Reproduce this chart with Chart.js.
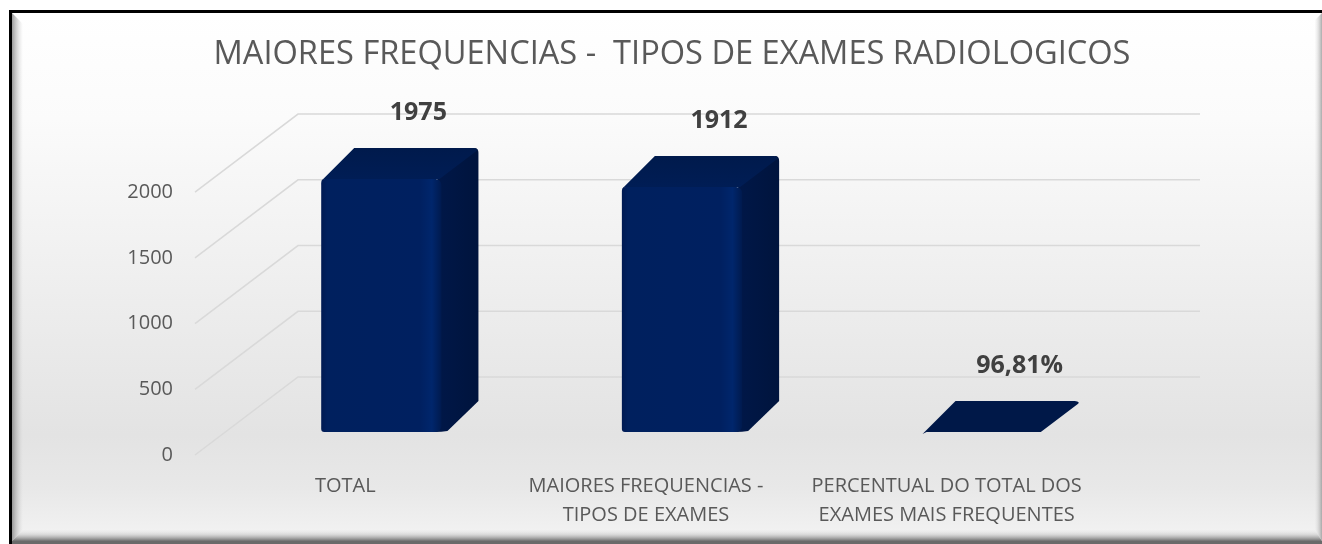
<!DOCTYPE html>
<html>
<head>
<meta charset="utf-8">
<script src="https://cdn.jsdelivr.net/npm/chart.js@4.4.0/dist/chart.umd.min.js"></script>
<style>
  html, body { margin: 0; padding: 0; background: #fff; }
  #wrap { width: 1322px; height: 544px; }
</style>
</head>
<body>
<div id="wrap"><canvas id="chart" width="1322" height="544"></canvas></div>
<script>
// data
const categories = [
  ['TOTAL'],
  ['MAIORES FREQUENCIAS -', 'TIPOS DE EXAMES'],
  ['PERCENTUAL DO TOTAL DOS', 'EXAMES MAIS FREQUENTES']
];
const values = [1975, 1912, 0.9681];
const valueLabels = ['1975', '1912', '96,81%'];
const yTicks = [0, 500, 1000, 1500, 2000];
const chartTitle = 'MAIORES FREQUENCIAS -  TIPOS DE EXAMES RADIOLOGICOS';

// fake 3d look (excel style)
const WALL = { x: 103, y: -78 };   // front edge of floor -> back wall
const PLANE = { x: 36, y: -23 };   // front edge -> front face of the bars
const DEPTH = { x: 37, y: -31 };   // bar depth
const H_SCALE = 0.975;

const TEXT = '#595959';

const framePlugin = {
  id: 'frame',
  beforeDraw(chart) {
    const ctx = chart.ctx, W = chart.width, H = chart.height;
    ctx.save();
    ctx.fillStyle = '#fff';
    ctx.fillRect(0, 0, W, H);
    ctx.fillStyle = '#000';
    ctx.fillRect(9, 10, W - 9, H - 10);

    const g = ctx.createLinearGradient(0, 13, 0, 541);
    g.addColorStop(0, '#ffffff');
    g.addColorStop(0.2, '#fbfbfb');
    g.addColorStop(0.8, '#e3e3e3');
    g.addColorStop(0.9, '#e8e8e8');
    g.addColorStop(1, '#f3f3f3');
    ctx.fillStyle = g;
    ctx.fillRect(12, 13, W - 12, H - 16);

    // bevels
    let b = ctx.createLinearGradient(12, 0, 23, 0);
    b.addColorStop(0, 'rgba(130,130,130,0.8)');
    b.addColorStop(1, 'rgba(200,200,200,0)');
    ctx.fillStyle = b;
    ctx.beginPath();
    ctx.moveTo(12, 13); ctx.lineTo(23, 24); ctx.lineTo(23, 530); ctx.lineTo(12, 541);
    ctx.closePath(); ctx.fill();

    b = ctx.createLinearGradient(0, 528, 0, 541);
    b.addColorStop(0, 'rgba(245,245,245,0)');
    b.addColorStop(0.5, 'rgba(200,200,200,0.6)');
    b.addColorStop(1, 'rgba(110,110,110,1)');
    ctx.fillStyle = b;
    ctx.beginPath();
    ctx.moveTo(12, 541); ctx.lineTo(23, 530); ctx.lineTo(W - 7, 530); ctx.lineTo(W, 541);
    ctx.closePath(); ctx.fill();
    ctx.fillStyle = '#6a6a6a';
    ctx.fillRect(12, 541, W - 12, 3);

    b = ctx.createLinearGradient(W - 8, 0, W, 0);
    b.addColorStop(0, 'rgba(230,230,230,0)');
    b.addColorStop(1, 'rgba(150,150,150,0.8)');
    ctx.fillStyle = b;
    ctx.beginPath();
    ctx.moveTo(W, 13); ctx.lineTo(W - 7, 20); ctx.lineTo(W - 7, 530); ctx.lineTo(W, 541);
    ctx.closePath(); ctx.fill();
    ctx.restore();
  },
  beforeDatasetsDraw(chart) {
    // perspective gridlines: diagonal on the side wall, then flat on the back wall
    const ctx = chart.ctx, ys = chart.scales.y, area = chart.chartArea;
    ctx.save();
    ctx.strokeStyle = '#d9d9d9';
    ctx.lineWidth = 1.5;
    yTicks.forEach(v => {
      const yf = ys.getPixelForValue(v);
      ctx.beginPath();
      ctx.moveTo(area.left, yf);
      ctx.lineTo(area.left + WALL.x, yf + WALL.y);
      ctx.lineTo(area.right + WALL.x, yf + WALL.y);
      ctx.stroke();
    });
    ctx.restore();
  }
};

function drawBox(ctx, x0, x1, yTop, yBot) {
  const dx = DEPTH.x, dy = DEPTH.y;
  const h = yBot - yTop;

  // side
  if (h > 1) {
    let sg = ctx.createLinearGradient(x1, 0, x1 + dx, 0);
    sg.addColorStop(0, '#001747');
    sg.addColorStop(1, '#00143d');
    ctx.fillStyle = sg;
    ctx.beginPath();
    ctx.moveTo(x1 - 4, yTop);
    ctx.lineTo(x1 + dx - 4, yTop + dy);
    ctx.quadraticCurveTo(x1 + dx, yTop + dy, x1 + dx, yTop + dy + 5);
    ctx.lineTo(x1 + dx, yBot + dy);
    ctx.lineTo(x1 + 6, yBot - 1);
    ctx.quadraticCurveTo(x1, yBot, x1 - 6, yBot);
    ctx.closePath();
    ctx.fill();
  }

  // top
  const tg = ctx.createLinearGradient(0, yTop + dy, 0, yTop);
  tg.addColorStop(0, '#001a4c');
  tg.addColorStop(1, '#001d55');
  ctx.fillStyle = h > 1 ? tg : '#001848';
  ctx.beginPath();
  ctx.moveTo(x0, yTop + 2);
  ctx.lineTo(x0 + dx - 4, yTop + dy);
  ctx.lineTo(x1 + dx - 5, yTop + dy);
  ctx.quadraticCurveTo(x1 + dx + 1, yTop + dy + 1, x1 + dx - 2, yTop + dy + 3);
  ctx.lineTo(x1 - 2, yTop);
  ctx.lineTo(x0 + 4, yTop);
  ctx.closePath();
  ctx.fill();

  if (h <= 1) return;

  // front
  const fg = ctx.createLinearGradient(x0, 0, x1, 0);
  fg.addColorStop(0, '#001a52');
  fg.addColorStop(0.05, '#00205e');
  fg.addColorStop(0.82, '#002060');
  fg.addColorStop(0.92, '#00266c');
  fg.addColorStop(1, '#001a4e');
  ctx.fillStyle = fg;
  ctx.beginPath();
  ctx.roundRect(x0, yTop, x1 - x0, h, [4, 6, 6, 3]);
  ctx.fill();
}

const boxPlugin = {
  id: 'box3d',
  afterDatasetsDraw(chart) {
    const ctx = chart.ctx;
    const meta = chart.getDatasetMeta(0);
    ctx.save();
    meta.data.forEach((bar, i) => {
      const p = bar.getProps(['x', 'y', 'base', 'width'], true);
      const x0 = p.x - p.width / 2 + PLANE.x;
      const x1 = x0 + p.width;
      const yBot = p.base + PLANE.y;
      const yTop = yBot - (p.base - p.y) * H_SCALE;
      drawBox(ctx, x0, x1, yTop, yBot);

      ctx.fillStyle = '#404040';
      ctx.font = 'bold 25px "Open Sans"';
      ctx.textAlign = 'center';
      ctx.textBaseline = 'middle';
      ctx.fillText(valueLabels[i], (x0 + x1) / 2 + DEPTH.x, yTop + DEPTH.y - 35);
    });
    ctx.restore();
  }
};

new Chart(document.getElementById('chart'), {
  type: 'bar',
  data: {
    labels: categories,
    datasets: [{
      data: values,
      backgroundColor: 'rgba(0,0,0,0)',
      borderWidth: 0,
      barPercentage: 0.4,
      categoryPercentage: 1
    }]
  },
  options: {
    responsive: false,
    animation: false,
    events: [],
    layout: { padding: { left: 32, right: 10, top: 35, bottom: 0 } },
    plugins: {
      legend: { display: false },
      tooltip: { enabled: false },
      title: {
        display: true,
        text: chartTitle,
        color: TEXT,
        font: { family: '"Open Sans"', size: 32.6, weight: 'normal', lineHeight: 1.2 },
        padding: { top: 0, bottom: 118 }
      }
    },
    scales: {
      x: {
        grid: { display: false, drawTicks: false },
        border: { display: false },
        ticks: {
          color: TEXT,
          padding: 17,
          maxRotation: 0,
          autoSkip: false,
          font: { family: '"Open Sans"', size: 20, lineHeight: 1.45 }
        },
        afterFit(s) { s.height = 89; }
      },
      y: {
        min: 0,
        max: 2000,
        grid: { display: false, drawTicks: false },
        border: { display: false },
        afterBuildTicks(s) { s.ticks = yTicks.map(v => ({ value: v })); },
        ticks: {
          color: TEXT,
          padding: 22,
          font: { family: '"Open Sans"', size: 20 },
          callback: v => String(v)
        },
        afterFit(s) { s.width = 163; }
      },
      y2: {
        position: 'right',
        display: true,
        grid: { display: false, drawTicks: false },
        border: { display: false },
        ticks: { display: false },
        afterFit(s) { s.width = 215; }
      }
    }
  },
  plugins: [framePlugin, boxPlugin]
});
</script>
</body>
</html>
